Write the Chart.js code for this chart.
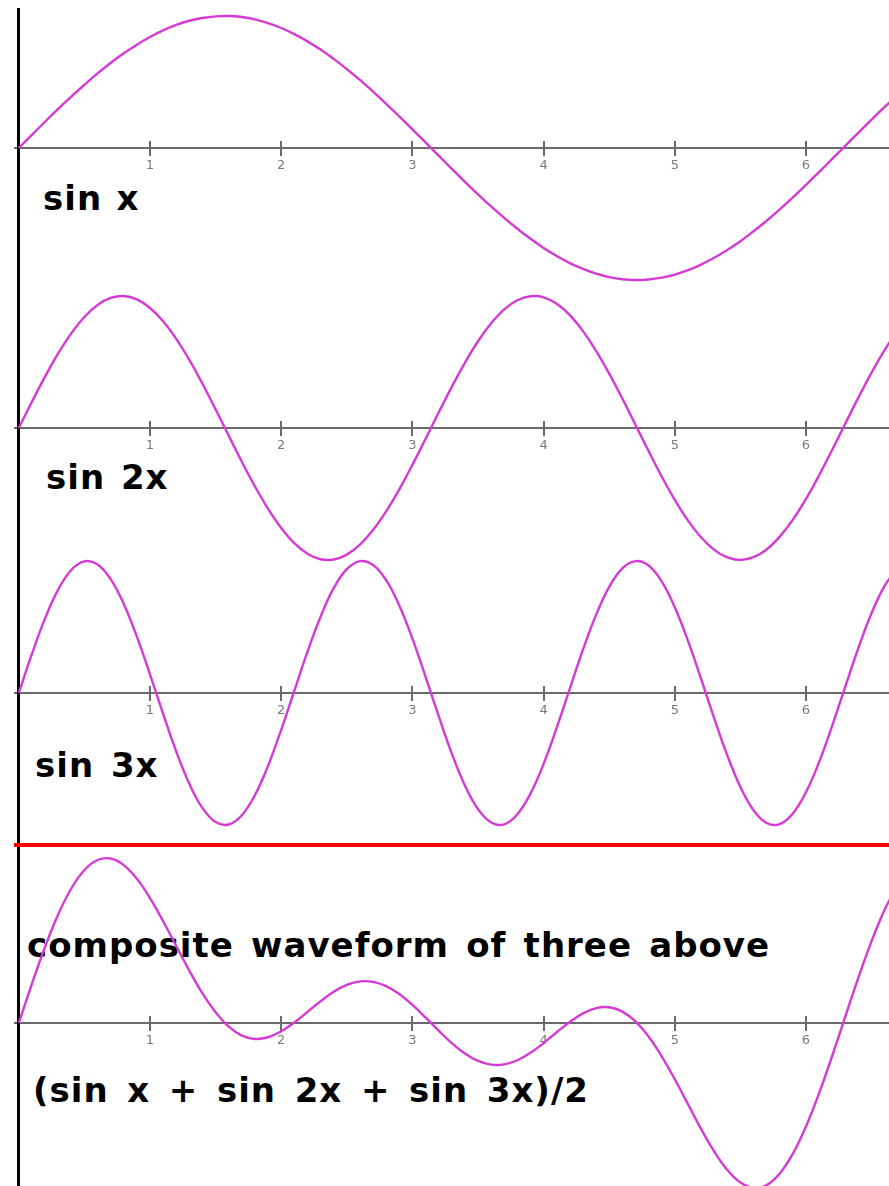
<!DOCTYPE html>
<html>
<head>
<meta charset="utf-8">
<title>sin x, sin 2x, sin 3x and their composite</title>
<script src="https://cdn.jsdelivr.net/npm/chart.js@4.4.1/dist/chart.umd.min.js"></script>
<style>
  html, body { margin: 0; padding: 0; background: #fff; }
  #page { position: relative; width: 889px; height: 1186px; overflow: hidden; background: #fff; }
  .label {
    position: absolute; height: 0; line-height: 0; white-space: nowrap;
    font-family: "DejaVu Sans", sans-serif; font-weight: bold; font-size: 34px;
    letter-spacing: 1px; color: #000;
  }
  canvas { position: absolute; left: 14px; }
  #divider { position: absolute; left: 14px; top: 843px; width: 875px; height: 4px; background: #ff0000; }
</style>
</head>
<body>
<div id="page">
  <div class="label" id="lab1" style="left:43px; top:198px; word-spacing:1.5px;"></div>
  <div class="label" id="lab2" style="left:46px; top:477px; word-spacing:3px;"></div>
  <div class="label" id="lab3" style="left:35px; top:765px; word-spacing:4px;"></div>
  <div class="label" id="lab4" style="left:27px; top:945px; word-spacing:4.4px;"></div>
  <div class="label" id="lab5" style="left:33px; top:1090px; word-spacing:5.8px;"></div>

  <canvas id="p1" width="875" height="280" style="top:8px;"></canvas>
  <canvas id="p2" width="875" height="280" style="top:288px;"></canvas>
  <canvas id="p3" width="875" height="280" style="top:553px;"></canvas>
  <canvas id="p4" width="875" height="353" style="top:833px;"></canvas>

  <div id="divider"></div>
</div>

<script>
// Sample positions along x (radians)
const xValues = [
  0, 0.1, 0.2, 0.3, 0.4, 0.5, 0.6, 0.7, 0.8, 0.9,
  1, 1.1, 1.2, 1.3, 1.4, 1.5, 1.6, 1.7, 1.8, 1.9,
  2, 2.1, 2.2, 2.3, 2.4, 2.5, 2.6, 2.7, 2.8, 2.9,
  3, 3.1, 3.2, 3.3, 3.4, 3.5, 3.6, 3.7, 3.8, 3.9,
  4, 4.1, 4.2, 4.3, 4.4, 4.5, 4.6, 4.7, 4.8, 4.9,
  5, 5.1, 5.2, 5.3, 5.4, 5.5, 5.6, 5.7, 5.8, 5.9,
  6, 6.1, 6.2, 6.3, 6.4, 6.5, 6.6, 6.7
];

// sin x
const sinX = [
  0, 0.100, 0.199, 0.296, 0.389, 0.479, 0.565, 0.644, 0.717, 0.783,
  0.841, 0.891, 0.932, 0.964, 0.985, 0.997, 1.000, 0.992, 0.974, 0.946,
  0.909, 0.863, 0.808, 0.746, 0.675, 0.598, 0.516, 0.427, 0.335, 0.239,
  0.141, 0.042, -0.058, -0.158, -0.256, -0.351, -0.443, -0.530, -0.612, -0.688,
  -0.757, -0.818, -0.872, -0.916, -0.952, -0.978, -0.994, -1.000, -0.996, -0.982,
  -0.959, -0.926, -0.883, -0.832, -0.773, -0.706, -0.631, -0.551, -0.465, -0.374,
  -0.279, -0.182, -0.083, 0.017, 0.117, 0.215, 0.312, 0.405
];

// sin 2x
const sin2X = [
  0, 0.199, 0.389, 0.565, 0.717, 0.841, 0.932, 0.985, 1.000, 0.974,
  0.909, 0.808, 0.675, 0.516, 0.335, 0.141, -0.058, -0.256, -0.443, -0.612,
  -0.757, -0.872, -0.952, -0.994, -0.996, -0.959, -0.883, -0.773, -0.631, -0.465,
  -0.279, -0.083, 0.117, 0.312, 0.494, 0.657, 0.793, 0.899, 0.968, 0.998,
  0.990, 0.941, 0.855, 0.734, 0.585, 0.412, 0.223, 0.025, -0.174, -0.367,
  -0.544, -0.700, -0.828, -0.923, -0.981, -1.000, -0.979, -0.920, -0.823, -0.694,
  -0.537, -0.358, -0.165, 0.034, 0.232, 0.420, 0.592, 0.740
];

// sin 3x
const sin3X = [
  0, 0.296, 0.565, 0.783, 0.932, 0.997, 0.974, 0.863, 0.675, 0.427,
  0.141, -0.158, -0.443, -0.688, -0.872, -0.978, -0.996, -0.926, -0.773, -0.551,
  -0.279, 0.017, 0.312, 0.578, 0.794, 0.938, 0.999, 0.970, 0.855, 0.663,
  0.412, 0.124, -0.174, -0.458, -0.700, -0.880, -0.981, -0.995, -0.919, -0.762,
  -0.537, -0.263, 0.034, 0.328, 0.592, 0.804, 0.944, 0.999, 0.966, 0.846,
  0.650, 0.397, 0.108, -0.191, -0.472, -0.712, -0.888, -0.985, -0.993, -0.913,
  -0.751, -0.523, -0.247, 0.050, 0.343, 0.606, 0.813, 0.950
];

// (sin x + sin 2x + sin 3x) / 2
const composite = [
  0, 0.297, 0.576, 0.822, 1.019, 1.159, 1.235, 1.246, 1.196, 1.092,
  0.946, 0.771, 0.583, 0.396, 0.224, 0.081, -0.028, -0.095, -0.121, -0.108,
  -0.063, 0.004, 0.084, 0.165, 0.237, 0.289, 0.315, 0.312, 0.279, 0.219,
  0.137, 0.042, -0.058, -0.152, -0.231, -0.287, -0.315, -0.313, -0.282, -0.226,
  -0.152, -0.070, 0.008, 0.073, 0.113, 0.119, 0.086, 0.012, -0.102, -0.252,
  -0.426, -0.614, -0.802, -0.973, -1.113, -1.209, -1.249, -1.228, -1.140, -0.990,
  -0.784, -0.532, -0.248, 0.050, 0.346, 0.620, 0.859, 1.048
];

// x-axis tick labels
const xTickValues = [1, 2, 3, 4, 5, 6];

// captions
const panelLabels = ['sin x', 'sin 2x', 'sin 3x'];
const compositeLabels = ['composite waveform of three above', '(sin x + sin 2x + sin 3x)/2'];

document.getElementById('lab1').textContent = panelLabels[0];
document.getElementById('lab2').textContent = panelLabels[1];
document.getElementById('lab3').textContent = panelLabels[2];
document.getElementById('lab4').textContent = compositeLabels[0];
document.getElementById('lab5').textContent = compositeLabels[1];

const CURVE = '#d43ad4';
const AXIS = '#6a6a6a';
const X_MIN = -0.0366;
const X_MAX = 6.6326;

function points(ys) {
  return xValues.map((x, i) => ({ x: x, y: ys[i] }));
}

function useFixedTicks(scale) {
  scale.ticks = xTickValues.map(v => ({ value: v }));
}

function makePanel(id, ys, yMin, yMax) {
  return new Chart(document.getElementById(id), {
    type: 'line',
    data: {
      datasets: [{
        data: points(ys),
        borderColor: CURVE,
        borderWidth: 2.4,
        pointRadius: 0,
        tension: 0.4,
        fill: false
      }]
    },
    options: {
      responsive: false,
      animation: false,
      devicePixelRatio: 1,
      events: [],
      layout: { padding: 0 },
      plugins: { legend: { display: false }, tooltip: { enabled: false } },
      scales: {
        x: {
          type: 'linear',
          position: { y: 0 },
          min: X_MIN,
          max: X_MAX,
          afterBuildTicks: useFixedTicks,
          border: { display: true, color: AXIS, width: 2 },
          grid: { drawOnChartArea: false, drawTicks: true, tickLength: 7, color: AXIS, lineWidth: 2 },
          ticks: {
            padding: 3,
            color: '#7a7a7a',
            font: { family: 'DejaVu Sans', size: 13 },
            autoSkip: false,
            maxRotation: 0,
            callback: v => String(v)
          }
        },
        // upper half of the tick marks, crossing above the axis line
        xUp: {
          type: 'linear',
          axis: 'x',
          position: { y: 0 },
          min: X_MIN,
          max: X_MAX,
          afterBuildTicks: useFixedTicks,
          border: { display: false },
          grid: { drawOnChartArea: false, drawTicks: true, tickLength: -7, color: AXIS, lineWidth: 2 },
          ticks: { display: false }
        },
        y: {
          type: 'linear',
          position: { x: 0 },
          min: yMin,
          max: yMax,
          border: { display: true, color: '#000', width: 3 },
          grid: { drawOnChartArea: false, drawTicks: false },
          ticks: { display: false }
        }
      }
    }
  });
}

makePanel('p1', sinX, -1.0606, 1.0606);
makePanel('p2', sin2X, -1.0606, 1.0606);
makePanel('p3', sin3X, -1.0606, 1.0606);
makePanel('p4', composite, -1.2348, 1.4394);
</script>
</body>
</html>
